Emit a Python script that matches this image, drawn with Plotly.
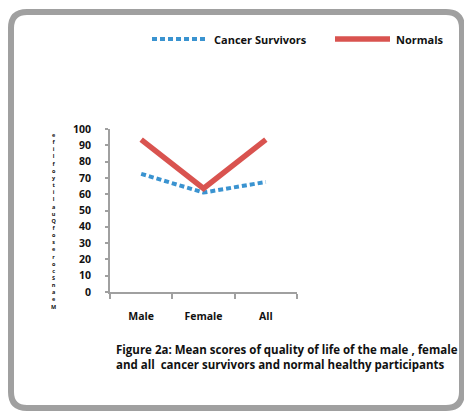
import plotly.graph_objects as go

# Mean quality-of-life scores
groups = ["Male", "Female", "All"]
cancer_survivors = [72.5, 61, 67.5]
normals = [93.5, 63.5, 93.5]

y_ticks = list(range(0, 101, 10))
y_title = "Mean Scores of Quality of life"
caption = ("Figure 2a: Mean scores of quality of life of the male , female<br>"
           "and all  cancer survivors and normal healthy participants")

W, H = 464, 413
L, T, PW, PH = 110, 129, 187, 163

def px(x):
    return (x - L) / PW

def py(y):
    return (T + PH - y) / PH

FONT = "Open Sans"
BLUE = "#3A93D0"
RED = "#D9534F"
GREY = "#A0A0A0"
INK = "#111111"

series = [
    ("Cancer Survivors", cancer_survivors, dict(color=BLUE, width=4, dash="5px,3px")),
    ("Normals", normals, dict(color=RED, width=5.5)),
]

fig = go.Figure()
for name, values, line in series:
    fig.add_trace(go.Scatter(x=groups, y=values, mode="lines", name=name,
                             line=line, showlegend=False))

annotations = [dict(
    text=caption, xref="paper", yref="paper", x=px(114), y=py(340),
    xanchor="left", yanchor="top", align="left", showarrow=False,
    font=dict(family=FONT, size=11.5, color=INK, weight="bold"))]

# stacked axis title, one character per row, reading upward
stack = "<br>".join(ch for ch in reversed(y_title) if ch != " ")
annotations.append(dict(
    text=stack, xref="paper", yref="paper", x=px(53), y=py(221),
    xanchor="center", yanchor="middle", showarrow=False,
    font=dict(family=FONT, size=5.5, color=INK, weight="bold")))

# legend along the top: line sample + label per series
legend_y = py(39)
legend_slots = [(152, 208), (335, 390)]
shapes = []
for (name, _, line), (lx0, lx1) in zip(series, legend_slots):
    shapes.append(dict(type="line", xref="paper", yref="paper",
                       x0=px(lx0), x1=px(lx1), y0=legend_y, y1=legend_y,
                       line=dict(color=line["color"], width=line["width"],
                                 dash=line.get("dash", "solid"))))
    annotations.append(dict(
        text=name, xref="paper", yref="paper", x=px(lx1 + 4), y=legend_y,
        xanchor="left", yanchor="middle", showarrow=False,
        font=dict(family=FONT, size=11, color=INK, weight="bold")))

# rounded frame around the figure
x0, x1, y0, y1, r = px(11), px(462), py(12), py(408), 16
rx, ry = r / PW, r / PH
frame = (f"M{x0+rx},{y0} L{x1-rx},{y0} Q{x1},{y0} {x1},{y0-ry} "
         f"L{x1},{y1+ry} Q{x1},{y1} {x1-rx},{y1} "
         f"L{x0+rx},{y1} Q{x0},{y1} {x0},{y1+ry} "
         f"L{x0},{y0-ry} Q{x0},{y0} {x0+rx},{y0} Z")
shapes.append(dict(type="path", path=frame, xref="paper", yref="paper",
                   line=dict(color=GREY, width=6), layer="below"))

fig.update_layout(
    width=W, height=H,
    margin=dict(l=L, r=W - L - PW, t=T, b=H - T - PH),
    paper_bgcolor="white", plot_bgcolor="white",
    showlegend=False,
    annotations=annotations,
    shapes=shapes,
    xaxis=dict(
        showgrid=False, showline=True, linecolor=GREY, linewidth=2,
        ticks="outside", tickson="boundaries", ticklen=5, tickcolor=GREY, tickwidth=2,
        ticklabelstandoff=13,
        tickfont=dict(family=FONT, size=10.5, color=INK, weight="bold"),
        range=[-0.5, 2.5], fixedrange=True),
    yaxis=dict(
        range=[0, 100], tickvals=y_ticks, showgrid=False, zeroline=False,
        showline=True, linecolor=GREY, linewidth=2,
        ticks="outside", ticklen=3, tickcolor=GREY, tickwidth=2,
        ticklabelstandoff=12,
        tickfont=dict(family=FONT, size=10.5, color=INK, weight="bold")),
)

fig.write_html("out.html")
